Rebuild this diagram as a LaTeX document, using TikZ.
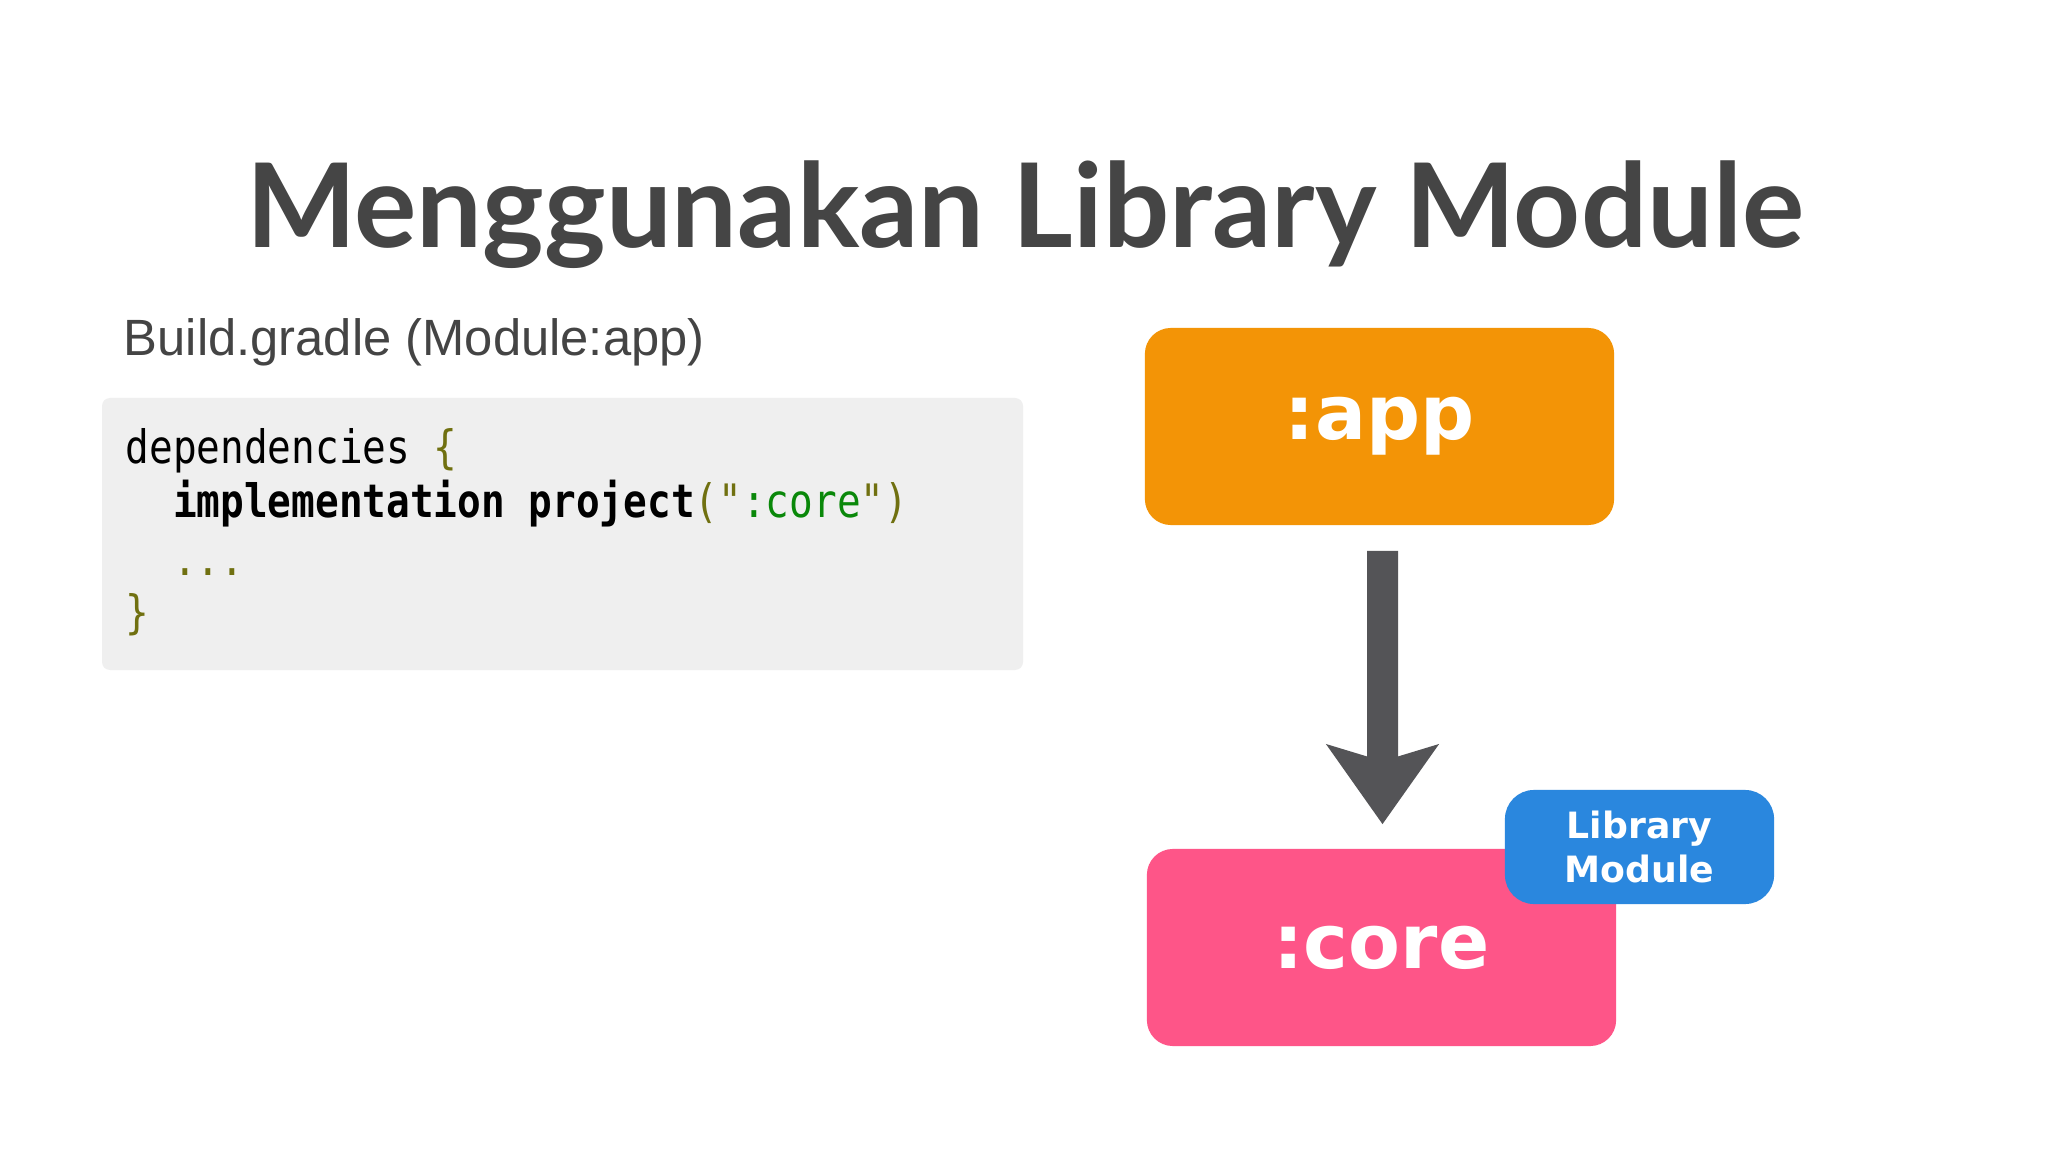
\documentclass[tikz,border=0pt]{standalone}
\usepackage{fontspec}
\usepackage{graphicx}
\setmainfont{Liberation Sans}
\newfontfamily\titlefont{Lato}
\newfontfamily\boxfont{DejaVu Sans}
\newfontfamily\codefont{DejaVu Sans Mono}
\usetikzlibrary{arrows.meta}
\definecolor{titlegray}{HTML}{454545}
\definecolor{subgray}{HTML}{444444}
\definecolor{codebg}{HTML}{EFEFEF}
\definecolor{codeolive}{HTML}{707010}
\definecolor{codegreen}{HTML}{0A880A}
\definecolor{apporange}{HTML}{F39406}
\definecolor{corepink}{HTML}{FE5588}
\definecolor{libblue}{HTML}{2A87DE}
\definecolor{arrowgray}{HTML}{545457}
\newcommand{\tallcode}[1]{\scalebox{1}[1.17]{#1}}
\tikzset{
  modbox/.style={rounded corners=0.26cm, inner sep=0pt, text=white,
    minimum width=4.69cm, minimum height=1.97cm,
    font=\boxfont\bfseries\fontsize{21.5pt}{24pt}\selectfont},
  libbox/.style={rounded corners=0.29cm, inner sep=0pt, text=white, fill=libblue,
    minimum width=2.69cm, minimum height=1.14cm, align=center,
    font=\boxfont\bfseries\fontsize{10.3pt}{12.5pt}\selectfont},
  codeline/.style={anchor=base west, inner sep=0pt,
    font=\codefont\fontsize{11.2pt}{13pt}\selectfont},
  deparrow/.style={draw=arrowgray, line width=0.31cm,
    -{Stealth[length=0.79cm, width=1.1cm, inset=0.16cm, fill=arrowgray]}}
}
\begin{document}
\begin{tikzpicture}[x=0.01cm,y=-0.01cm]
\useasboundingbox (0,0) rectangle (2048,1152);
\fill[white] (0,0) rectangle (2048,1152);
% title
\node[anchor=base, inner sep=0pt, text=titlegray,
  font=\titlefont\bfseries\fontsize{33.2pt}{40pt}\selectfont] (title) at (1025,248) {Menggunakan Library Module};
% subtitle
\node[anchor=base west, inner sep=0pt, text=subgray,
  font=\fontsize{14.5pt}{17pt}\selectfont] (sub) at (123,356) {\scalebox{0.995}[1]{Build.gradle (Module:app)}};
% code box
\fill[codebg, rounded corners=0.08cm] (102,398) rectangle (1023,670);
\node[codeline] (l1) at (125,464) {\tallcode{dependencies \textcolor{codeolive}{\{}}};
\node[codeline] (l2) at (125,518) {\tallcode{\phantom{xx}\textbf{implementation project}\textcolor{codeolive}{("}\textcolor{codegreen}{:core}\textcolor{codeolive}{")}}};
\node[codeline] (l3) at (125,575) {\tallcode{\phantom{xx}\textcolor{codeolive}{...}}};
\node[codeline] (l4) at (125,628) {\tallcode{\textcolor{codeolive}{\}}}};
% modules
\node[modbox, fill=apporange] (app) at (1379.5,426.5) {:app};
\node[modbox, fill=corepink] (core) at (1381.5,947.5) {:core};
\node[libbox] (lib) at (1639.5,847) {Library\\Module};
% arrow
\draw[deparrow] ([xshift=0.03cm,yshift=-0.25cm]app.south) -- ([xshift=0.01cm,yshift=0.24cm]core.north);
\end{tikzpicture}
\end{document}
